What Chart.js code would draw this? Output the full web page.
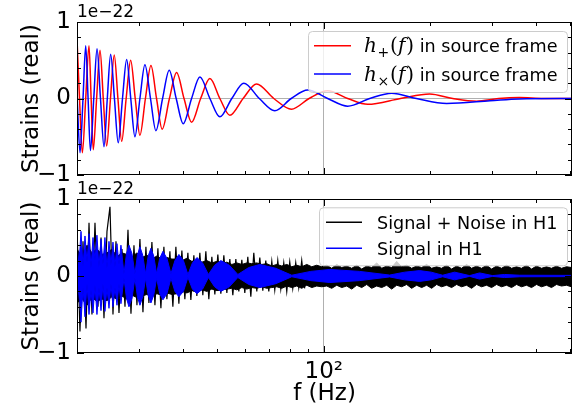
<!DOCTYPE html>
<html>
<head>
<meta charset="utf-8">
<script src="https://cdn.jsdelivr.net/npm/chart.js@4.4.0/dist/chart.umd.min.js"></script>
<style>
  html, body { margin: 0; padding: 0; background: #fff; }
  #wrap { position: relative; width: 573px; height: 408px; }
  canvas { position: absolute; left: 0; }
  #topChart { top: 0; }
  #bottomChart { top: 178px; }
</style>
</head>
<body>
<div id="wrap">
  <canvas id="topChart" width="573" height="190"></canvas>
  <canvas id="bottomChart" width="573" height="230"></canvas>
</div>
<script>
// values in units of 1e-22

// top panel: h+(f) and hx(f), extrema and zero crossings
const plusF = [20.0, 20.33, 20.71, 21.17, 21.63, 21.93, 22.24, 22.73, 23.24, 23.74, 24.27, 24.88, 25.50, 26.12, 26.77, 27.56,
  28.38, 29.24, 30.15, 31.25, 32.40, 33.6, 34.86, 36.55, 38.30, 40.2, 42.23, 44.8, 47.59, 50.78, 54.20, 59.1, 64.52, 72.2,
  81.02, 90.9, 102.6, 116.9, 133.2, 165, 199.5, 232, 271, 313, 358, 420, 505];
const plusV = [0.78, 0, -0.71, 0, 0.69, 0, -0.67, 0, 0.63, 0, -0.62, 0, 0.57, 0, -0.56, 0,
  0.50, 0, -0.48, 0, 0.43, 0, -0.40, 0, 0.34, 0, -0.31, 0, 0.26, 0, -0.22, 0, 0.19, 0,
  -0.14, 0, 0.10, 0, -0.076, 0, 0.06, 0, -0.035, 0, 0.012, 0, 0];

const crossF = [20.0, 20.40, 20.8, 21.17, 21.5, 21.83, 22.31, 22.79, 23.31, 23.85, 24.37, 24.91, 25.53, 26.17, 26.91,
  27.65, 28.4, 29.18, 30.15, 31.15, 32.3, 33.46, 34.95, 36.50, 38.2, 39.99, 42.23, 44.59, 47.59, 50.78, 54.9, 59.38,
  65.7, 72.65, 80.9, 90.09, 102.6, 116.9, 135, 155.7, 183, 223, 296, 358, 505];
const crossV = [0.05, -0.71, 0, 0.69, 0, -0.68, 0, 0.65, 0, -0.63, 0, 0.58, 0, -0.58, 0,
  0.51, 0, -0.50, 0, 0.44, 0, -0.42, 0, 0.37, 0, -0.33, 0, 0.28, 0, -0.24, 0, 0.20,
  0, -0.16, 0, 0.11, 0, -0.10, 0, 0.07, 0, -0.065, -0.03, -0.005, 0];

// bottom panel: signal in H1 (upper / lower edge of the dense oscillation)
const sigF = [20.00, 20.26, 20.53, 20.80, 21.07, 21.35, 21.63, 21.91, 22.20, 22.49, 22.78, 23.08, 23.39, 23.69, 24.00,
  24.32, 24.64, 24.96, 25.29, 25.62, 25.96, 26.30, 26.64,
  27.17, 27.62, 28.07, 28.63, 29.18, 29.66, 30.15, 30.71, 31.29, 31.82, 32.39, 32.99, 33.62, 34.31, 35.03, 35.96,
  36.91, 37.88, 38.88, 40.04, 41.23, 42.46, 43.73, 45.38, 47.13, 49.07, 51.11, 54.02, 57.10, 61.34, 65.91, 73.14,
  81.20, 91.89, 104.0, 126.4, 153.7, 169.6, 186.9, 201.5, 217.2, 234.8, 258.9, 276.4, 300.8, 325.2, 358.5, 503.2];
const sigHi = [0.42, 0.15, 0.58, 0.12, 0.52, 0.18, 0.55, 0.1, 0.5, 0.2, 0.53, 0.12, 0.48, 0.15, 0.5,
  0.1, 0.45, 0.15, 0.44, 0.12, 0.42, 0.15, 0.4,
  0.03, 0.29, 0.40, 0.29, 0.03, 0.27, 0.38, 0.27, 0.03, 0.26, 0.36, 0.26, 0.03, 0.23, 0.32, 0.23,
  0.03, 0.2, 0.28, 0.2, 0.02, 0.17, 0.24, 0.17, 0.02, 0.14, 0.2, 0.14, 0.02, 0.11, 0.15, 0.1,
  0.01, 0.06, 0.085, 0.06, 0.012, 0.05, 0.07, 0.05, 0.01, 0.05, 0.005, 0.04, 0.005, 0.02, 0.01, 0.008];
const sigLo = [-0.4, -0.12, -0.6, -0.15, -0.53, -0.1, -0.5, -0.18, -0.48, -0.12, -0.5, -0.15, -0.45, -0.1, -0.46,
  -0.15, -0.42, -0.1, -0.4, -0.15, -0.38, -0.1, -0.36,
  -0.03, -0.29, -0.40, -0.29, -0.03, -0.27, -0.38, -0.27, -0.03, -0.25, -0.35, -0.25, -0.03, -0.23, -0.31, -0.23,
  -0.03, -0.2, -0.27, -0.2, -0.02, -0.17, -0.23, -0.17, -0.02, -0.14, -0.2, -0.14, -0.02, -0.11, -0.15, -0.1,
  -0.01, -0.06, -0.085, -0.06, -0.012, -0.05, -0.07, -0.05, -0.01, -0.05, -0.005, -0.04, -0.005, -0.02, -0.01, -0.008];

// bottom panel: signal + noise in H1, core band (upper / lower edge)
const noiseF = [20.00, 20.66, 21.35, 22.05, 22.78, 23.54, 24.32, 25.12, 25.95, 26.81,
  27.70, 28.62, 29.57, 30.55, 31.56, 32.60, 33.68, 34.80, 35.95, 37.14,
  38.37, 39.64, 40.96, 42.31, 43.71, 45.16, 46.66, 48.20, 49.80, 51.45,
  53.15, 54.91, 56.73, 58.61, 60.55, 62.55, 64.62, 66.77, 68.98, 71.26,
  73.62, 76.06, 78.58, 81.18, 83.87, 86.65, 89.52, 92.48, 95.54, 98.71,
  101.98, 105.35, 108.84, 112.45, 116.17, 120.02, 123.99, 128.10, 132.34, 136.72,
  141.25, 145.93, 150.76, 155.75, 160.91, 166.24, 171.74, 177.43, 183.31, 189.38,
  195.65, 202.13, 208.82, 215.74, 222.88, 230.26, 237.89, 245.77, 253.91, 262.32,
  271.00, 279.98, 289.25, 298.83, 308.73, 318.95, 329.52, 340.43, 351.70, 363.35,
  375.38, 387.81, 400.66, 413.93, 427.63, 441.80, 456.43, 471.54, 487.16, 503.29];
const noiseHi = [0.35, 0.25, 0.4, 0.3, 0.35, 0.28, 0.3, 0.35, 0.25, 0.3,
  0.28, 0.25, 0.3, 0.24, 0.27, 0.22, 0.26, 0.22, 0.24, 0.22,
  0.22, 0.2, 0.23, 0.19, 0.21, 0.18, 0.2, 0.17, 0.19, 0.16,
  0.18, 0.15, 0.17, 0.15, 0.17, 0.16, 0.17, 0.15, 0.16, 0.13,
  0.15, 0.13, 0.15, 0.12, 0.14, 0.12, 0.15, 0.12, 0.14, 0.12,
  0.14, 0.1, 0.15, 0.11, 0.13, 0.1, 0.14, 0.09, 0.13, 0.11,
  0.17, 0.1, 0.13, 0.11, 0.19, 0.12, 0.14, 0.1, 0.13, 0.11,
  0.15, 0.1, 0.12, 0.1, 0.14, 0.09, 0.13, 0.1, 0.15, 0.1,
  0.13, 0.1, 0.14, 0.09, 0.13, 0.1, 0.14, 0.1, 0.12, 0.1,
  0.14, 0.09, 0.13, 0.1, 0.12, 0.1, 0.13, 0.1, 0.12, 0.11];
const noiseLo = [-0.35, -0.3, -0.38, -0.28, -0.33, -0.3, -0.32, -0.27, -0.3, -0.26,
  -0.3, -0.25, -0.28, -0.26, -0.24, -0.27, -0.23, -0.25, -0.22, -0.24,
  -0.23, -0.2, -0.22, -0.19, -0.21, -0.18, -0.2, -0.17, -0.19, -0.18,
  -0.17, -0.16, -0.18, -0.15, -0.17, -0.15, -0.16, -0.14, -0.16, -0.15,
  -0.14, -0.16, -0.13, -0.15, -0.13, -0.16, -0.12, -0.15, -0.13, -0.14,
  -0.13, -0.16, -0.12, -0.15, -0.13, -0.17, -0.12, -0.15, -0.11, -0.16,
  -0.13, -0.15, -0.12, -0.17, -0.12, -0.14, -0.11, -0.16, -0.12, -0.15,
  -0.12, -0.16, -0.11, -0.14, -0.12, -0.15, -0.11, -0.14, -0.12, -0.16,
  -0.11, -0.14, -0.12, -0.15, -0.11, -0.14, -0.12, -0.15, -0.11, -0.14,
  -0.12, -0.15, -0.11, -0.14, -0.12, -0.15, -0.11, -0.13, -0.12, -0.14];

// bottom panel: signal + noise in H1, individual spikes below 90 Hz
const spikeF = [20.00, 20.39, 20.80, 21.21, 21.63, 22.05, 22.49, 22.93, 23.39, 23.85,
  24.32, 24.80, 25.29, 25.79, 26.30, 26.82, 27.35, 27.89, 28.44, 29.00,
  29.57, 30.15, 30.75, 31.35, 31.97, 32.60, 33.25, 33.90, 34.57, 35.25,
  35.95, 36.66, 37.38, 38.12, 38.87, 39.64, 40.42, 41.22, 42.03, 42.86,
  43.71, 44.57, 45.45, 46.35, 47.26, 48.20, 49.15, 50.12, 51.11, 52.12,
  53.15, 54.20, 55.27, 56.36, 57.47, 58.61, 59.76, 60.94, 62.15, 63.37,
  64.62, 65.90, 67.20, 68.52, 69.88, 71.26, 72.66, 74.10, 75.56, 77.05,
  78.57, 80.12, 81.70, 83.31, 84.96, 86.63, 88.34];
const spikeV = [0.64, -0.72, 0.45, -0.68, 0.69, -0.5, 0.69, -0.4, 0.5, -0.55,
  0.58, 0.9, -0.5, 0.45, -0.48, 0.35, -0.4, 0.6, -0.49, 0.4,
  -0.38, 0.48, -0.47, 0.38, -0.35, 0.44, -0.38, 0.36, -0.42, 0.38,
  -0.3, 0.32, -0.4, 0.38, -0.36, 0.33, -0.3, 0.3, -0.31, 0.27,
  -0.26, 0.3, -0.25, 0.32, -0.3, 0.25, -0.24, 0.28, -0.23, 0.27,
  -0.22, 0.22, -0.25, 0.22, -0.2, 0.21, -0.22, 0.25, -0.27, 0.3,
  -0.2, 0.24, -0.19, 0.2, -0.2, 0.19, -0.18, 0.2, -0.17, 0.17,
  -0.2, 0.18, -0.16, 0.17, -0.15, 0.2, -0.16];

// tick positions
const xMinorTicks = [20, 30, 40, 50, 60, 70, 80, 90, 200, 300, 400, 500];
const xMajorTicks = [100];
const yMinorTicks = [-0.8, -0.6, -0.4, -0.2, 0.2, 0.4, 0.6, 0.8];
const yMajorTicks = [-1, 0, 1];

const FONT = 'DejaVu Sans';

function pts(xs, ys) {
    return xs.map((x, i) => ({ x: x, y: ys[i] }));
}

// frame with inward ticks on all four sides + offset text
const frameTicks = {
    id: 'frameTicks',
    afterDatasetsDraw(chart) {
        const { ctx, chartArea: a, scales } = chart;
        ctx.save();
        ctx.strokeStyle = '#000';
        ctx.lineWidth = 1;
        ctx.beginPath();
        const xMark = (list, len) => list.forEach(v => {
            const px = Math.round(scales.x.getPixelForValue(v)) + 0.5;
            ctx.moveTo(px, a.bottom); ctx.lineTo(px, a.bottom - len);
            ctx.moveTo(px, a.top); ctx.lineTo(px, a.top + len);
        });
        const yMark = (list, len) => list.forEach(v => {
            const py = Math.round(scales.y.getPixelForValue(v)) + 0.5;
            ctx.moveTo(a.left, py); ctx.lineTo(a.left + len, py);
            ctx.moveTo(a.right, py); ctx.lineTo(a.right - len, py);
        });
        xMark(xMinorTicks, 4);
        xMark(xMajorTicks, 7);
        yMark(yMinorTicks, 4);
        yMark(yMajorTicks, 7);
        ctx.stroke();
        ctx.strokeRect(a.left + 0.5, a.top + 0.5, a.right - a.left - 1, a.bottom - a.top - 1);

        ctx.fillStyle = '#000';
        ctx.font = '17px "' + FONT + '"';
        ctx.textAlign = 'left';
        ctx.textBaseline = 'alphabetic';
        ctx.fillText('1e\u221222', a.left, a.top - 5);
        ctx.restore();
    }
};

// matplotlib style legend box
const boxLegend = {
    id: 'boxLegend',
    afterDraw(chart, args, o) {
        if (!o || !o.items) return;
        const ctx = chart.ctx;
        ctx.save();
        ctx.beginPath();
        if (ctx.roundRect) ctx.roundRect(o.x + 0.5, o.y + 0.5, o.w, o.h, 4);
        else ctx.rect(o.x + 0.5, o.y + 0.5, o.w, o.h);
        ctx.fillStyle = 'rgba(255,255,255,0.8)';
        ctx.fill();
        ctx.strokeStyle = '#cccccc';
        ctx.lineWidth = 1;
        ctx.stroke();
        o.items.forEach((it, i) => {
            const yy = o.y + o.first + i * o.step;
            ctx.strokeStyle = it.color;
            ctx.lineWidth = 1.5;
            ctx.beginPath();
            ctx.moveTo(o.x + o.lineX0, yy);
            ctx.lineTo(o.x + o.lineX1, yy);
            ctx.stroke();
            let tx = o.x + o.textX;
            ctx.fillStyle = '#000';
            ctx.textAlign = 'left';
            ctx.textBaseline = 'alphabetic';
            it.parts.forEach(p => {
                ctx.font = p[1];
                ctx.fillText(p[0], tx, yy + 6.5 + p[2]);
                tx += ctx.measureText(p[0]).width + (p[3] || 0);
            });
        });
        ctx.restore();
    }
};

function yScale() {
    return {
        type: 'linear',
        min: -1,
        max: 1,
        afterFit: s => { s.width = 77; s.paddingTop = 0; s.paddingBottom = 0; },
        ticks: {
            stepSize: 0.2,
            autoSkip: false,
            padding: 6,
            color: '#000',
            font: { family: FONT, size: 23 },
            callback: v => Math.abs(v - 1) < 1e-6 ? '1' : Math.abs(v) < 1e-6 ? '0' : Math.abs(v + 1) < 1e-6 ? '\u22121' : ''
        },
        grid: {
            drawTicks: false,
            lineWidth: 1,
            color: c => (c.tick && Math.abs(c.tick.value) < 1e-6) ? '#b0b0b0' : 'rgba(0,0,0,0)'
        },
        border: { display: false },
        title: {
            display: true,
            text: 'Strains (real)',
            color: '#000',
            font: { family: FONT, size: 23 },
            padding: { top: 18, bottom: 0 }
        }
    };
}

function xScale(showLabels, h) {
    return {
        type: 'logarithmic',
        min: 20,
        max: 505,
        afterFit: s => { s.height = h; s.paddingLeft = 0; s.paddingRight = 0; },
        ticks: {
            display: showLabels,
            autoSkip: false,
            maxRotation: 0,
            padding: 5,
            color: '#000',
            font: { family: FONT, size: 23 },
            callback: v => Math.abs(v - 100) < 1e-6 ? '10\u00b2' : ''
        },
        grid: {
            drawTicks: false,
            lineWidth: 1,
            color: c => (c.tick && Math.abs(c.tick.value - 100) < 1e-6) ? '#b0b0b0' : 'rgba(0,0,0,0)'
        },
        border: { display: false },
        title: {
            display: showLabels,
            text: 'f (Hz)',
            color: '#000',
            font: { family: FONT, size: 23 },
            padding: { top: 0, bottom: 0 }
        }
    };
}

const mathFont = 'italic 20px "DejaVu Serif"';
const parenFont = '20px "DejaVu Serif"';
const subFont = '14px "DejaVu Sans"';
const legFont = '17.6px "' + FONT + '"';

// 상단: 원천 프레임의 파형
new Chart(document.getElementById('topChart'), {
    type: 'line',
    data: {
        datasets: [
            { data: pts(crossF, crossV), borderColor: '#0000ff', borderWidth: 1.5, pointRadius: 0,
              cubicInterpolationMode: 'monotone', fill: false },
            { data: pts(plusF, plusV), borderColor: '#ff0000', borderWidth: 1.5, pointRadius: 0,
              cubicInterpolationMode: 'monotone', fill: false }
        ]
    },
    options: {
        responsive: false,
        animation: false,
        devicePixelRatio: 1,
        layout: { padding: { top: 22, right: 1, left: 0, bottom: 0 } },
        scales: { x: xScale(false, 15), y: yScale() },
        plugins: {
            legend: { display: false },
            tooltip: { enabled: false },
            boxLegend: {
                x: 308, y: 31, w: 259, h: 61, first: 14.7, step: 28.3, lineX0: 6, lineX1: 43, textX: 56,
                items: [
                    { color: '#ff0000', parts: [['h', mathFont, 0, 0.5], ['+', subFont, 5, 1], ['(', parenFont, 0], ['f', mathFont, 0, 1], [')', parenFont, 0], [' in source frame', legFont, 0]] },
                    { color: '#0000ff', parts: [['h', mathFont, 0, 0.5], ['\u00d7', subFont, 5, 1], ['(', parenFont, 0], ['f', mathFont, 0, 1], [')', parenFont, 0], [' in source frame', legFont, 0]] }
                ]
            }
        }
    },
    plugins: [frameTicks, boxLegend]
});

// 하단: H1 검출기 신호와 잡음
new Chart(document.getElementById('bottomChart'), {
    type: 'line',
    data: {
        datasets: [
            { data: pts(sigF, sigHi), borderColor: '#0000ff', backgroundColor: '#0000ff', borderWidth: 1,
              pointRadius: 0, tension: 0, fill: '+1' },
            { data: pts(sigF, sigLo), borderColor: '#0000ff', borderWidth: 1, pointRadius: 0, tension: 0, fill: false },
            { data: pts(spikeF, spikeV), borderColor: '#000000', borderWidth: 1.2, pointRadius: 0, tension: 0, fill: false },
            { data: pts(noiseF, noiseHi), borderColor: '#000000', backgroundColor: '#000000', borderWidth: 1,
              pointRadius: 0, tension: 0, fill: '+1' },
            { data: pts(noiseF, noiseLo), borderColor: '#000000', borderWidth: 1, pointRadius: 0, tension: 0, fill: false }
        ]
    },
    options: {
        responsive: false,
        animation: false,
        devicePixelRatio: 1,
        layout: { padding: { top: 21, right: 1, left: 0, bottom: 0 } },
        scales: { x: xScale(true, 55), y: yScale() },
        plugins: {
            legend: { display: false },
            tooltip: { enabled: false },
            boxLegend: {
                x: 319, y: 29.3, w: 248, h: 58, first: 15, step: 26, lineX0: 7, lineX1: 43, textX: 58,
                items: [
                    { color: '#000000', parts: [['Signal + Noise in H1', legFont, 0]] },
                    { color: '#0000ff', parts: [['Signal in H1', legFont, 0]] }
                ]
            }
        }
    },
    plugins: [frameTicks, boxLegend]
});
</script>
</body>
</html>
